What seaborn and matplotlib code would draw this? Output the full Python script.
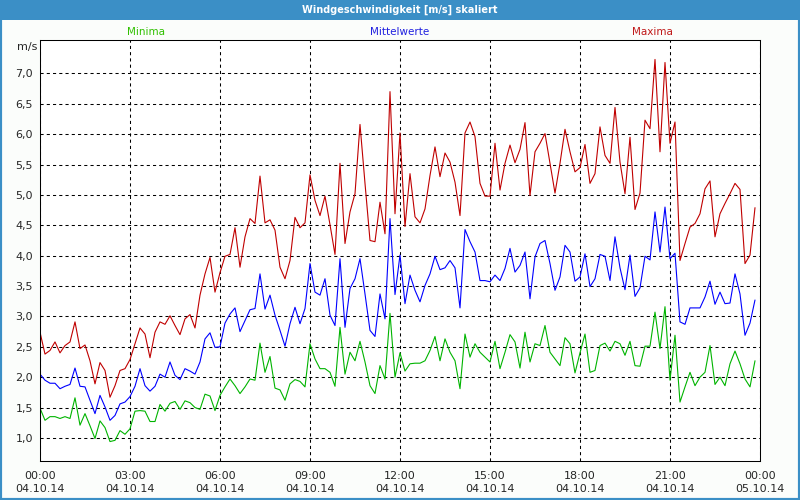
import numpy as np
import pandas as pd
import matplotlib
matplotlib.use("Agg")
import matplotlib.pyplot as plt
import seaborn as sns
from matplotlib.patches import Rectangle
from matplotlib.ticker import FuncFormatter

# Windgeschwindigkeit 04.10.14, 10-Minuten-Werte (m/s)
maxima = [
    2.74, 2.38, 2.44, 2.58, 2.40, 2.52, 2.58, 2.91, 2.47, 2.53, 2.27, 1.89,
    2.24, 2.11, 1.67, 1.86, 2.11, 2.14, 2.29, 2.55, 2.81, 2.71, 2.32, 2.74,
    2.91, 2.87, 3.01, 2.85, 2.70, 2.96, 3.03, 2.81, 3.35, 3.70, 3.97, 3.40,
    3.72, 3.99, 4.02, 4.46, 3.81, 4.31, 4.61, 4.53, 5.31, 4.54, 4.59, 4.42,
    3.81, 3.62, 3.92, 4.63, 4.46, 4.54, 5.33, 4.91, 4.66, 4.98, 4.51, 4.02,
    5.52, 4.20, 4.72, 5.02, 6.16, 5.19, 4.25, 4.23, 4.88, 4.36, 6.70, 4.69,
    6.02, 4.48, 5.35, 4.64, 4.54, 4.77, 5.32, 5.79, 5.30, 5.69, 5.54, 5.21,
    4.66, 6.02, 6.20, 5.96, 5.19, 4.98, 4.98, 5.85, 5.08, 5.52, 5.82, 5.53,
    5.75, 6.19, 4.99, 5.71, 5.85, 6.01, 5.52, 5.03, 5.52, 6.08, 5.71, 5.38,
    5.45, 5.83, 5.19, 5.35, 6.12, 5.65, 5.52, 6.44, 5.54, 5.02, 5.95, 4.76,
    5.03, 6.23, 6.09, 7.23, 5.71, 7.18, 5.85, 6.20, 3.92, 4.20, 4.47, 4.53,
    4.69, 5.10, 5.23, 4.31, 4.69, 4.86, 5.02, 5.19, 5.09, 3.87, 4.01, 4.79,
]
mittelwerte = [
    2.05, 1.95, 1.90, 1.90, 1.81, 1.85, 1.88, 2.15, 1.85, 1.84, 1.62, 1.40,
    1.70, 1.51, 1.29, 1.37, 1.56, 1.59, 1.68, 1.85, 2.14, 1.86, 1.77, 1.85,
    2.05, 2.00, 2.25, 2.03, 1.96, 2.14, 2.10, 2.05, 2.25, 2.63, 2.73, 2.49,
    2.50, 2.89, 3.04, 3.14, 2.75, 2.93, 3.11, 3.13, 3.70, 3.12, 3.35, 3.02,
    2.77, 2.51, 2.88, 3.15, 2.88, 3.13, 3.87, 3.40, 3.35, 3.62, 3.02, 2.85,
    3.95, 2.82, 3.46, 3.62, 3.95, 3.37, 2.77, 2.67, 3.37, 2.96, 4.61, 3.36,
    4.01, 3.21, 3.68, 3.43, 3.24, 3.51, 3.70, 3.99, 3.77, 3.80, 3.92, 3.80,
    3.14, 4.43, 4.23, 4.06, 3.59, 3.59, 3.57, 3.68, 3.59, 3.79, 4.12, 3.73,
    3.84, 4.06, 3.29, 3.98, 4.20, 4.25, 3.87, 3.43, 3.65, 4.17, 4.06, 3.58,
    3.65, 4.03, 3.49, 3.62, 4.02, 3.99, 3.59, 4.31, 3.80, 3.44, 4.01, 3.33,
    3.47, 3.99, 3.93, 4.72, 4.06, 4.80, 3.95, 4.04, 2.91, 2.87, 3.14, 3.14,
    3.14, 3.32, 3.58, 3.20, 3.40, 3.21, 3.22, 3.70, 3.37, 2.69, 2.89, 3.27,
]
minima = [
    1.49, 1.29, 1.35, 1.35, 1.32, 1.35, 1.32, 1.66, 1.21, 1.40, 1.20, 0.99,
    1.28, 1.17, 0.94, 0.96, 1.12, 1.06, 1.15, 1.44, 1.45, 1.44, 1.27, 1.27,
    1.55, 1.44, 1.57, 1.60, 1.47, 1.61, 1.58, 1.50, 1.47, 1.72, 1.69, 1.45,
    1.70, 1.84, 1.97, 1.86, 1.73, 1.84, 1.97, 1.95, 2.56, 2.08, 2.34, 1.82,
    1.79, 1.62, 1.89, 1.96, 1.93, 1.84, 2.55, 2.30, 2.14, 2.14, 2.08, 1.85,
    2.82, 2.05, 2.41, 2.27, 2.59, 2.25, 1.86, 1.73, 2.19, 1.97, 3.05, 2.00,
    2.40, 2.10, 2.22, 2.23, 2.23, 2.27, 2.44, 2.67, 2.27, 2.63, 2.41, 2.27,
    1.81, 2.71, 2.33, 2.55, 2.41, 2.33, 2.25, 2.59, 2.14, 2.41, 2.70, 2.58,
    2.15, 2.74, 2.25, 2.55, 2.52, 2.85, 2.41, 2.30, 2.19, 2.65, 2.55, 2.07,
    2.40, 2.71, 2.08, 2.11, 2.52, 2.56, 2.43, 2.59, 2.55, 2.36, 2.59, 2.19,
    2.18, 2.51, 2.51, 3.07, 2.47, 3.16, 1.95, 2.69, 1.59, 1.84, 2.08, 1.86,
    2.00, 2.08, 2.52, 1.88, 2.00, 1.86, 2.22, 2.43, 2.22, 1.97, 1.84, 2.27,
]

tick_hours = [0, 3, 6, 9, 12, 15, 18, 21, 24]
tick_labels = ["00:00\n04.10.14", "03:00\n04.10.14", "06:00\n04.10.14",
               "09:00\n04.10.14", "12:00\n04.10.14", "15:00\n04.10.14",
               "18:00\n04.10.14", "21:00\n04.10.14", "00:00\n05.10.14"]

colors = {"Maxima": "#c00000", "Mittelwerte": "#0000ff", "Minima": "#00b400"}
label_colors = {"Minima": "#30c000", "Mittelwerte": "#2020e0", "Maxima": "#c01818"}

# Zeitachse in Stunden (10-Minuten-Raster)
hours = np.arange(len(maxima)) / 6.0
df = pd.DataFrame({
    "Stunde": np.tile(hours, 3),
    "Wert": maxima + mittelwerte + minima,
    "Reihe": ["Maxima"] * len(maxima) + ["Mittelwerte"] * len(mittelwerte) + ["Minima"] * len(minima),
})

sns.set_style("white")
plt.rcParams["font.family"] = ["DejaVu Sans"]

fig = plt.figure(figsize=(8, 5), dpi=100)
fig.patch.set_facecolor("#fbfdfb")

# Fensterrahmen und Titelleiste
fig.patches.append(Rectangle((0, 0), 1, 1, transform=fig.transFigure, fill=False,
                             edgecolor="#3b8fc6", linewidth=3, zorder=0))
fig.patches.append(Rectangle((0, 1 - 20 / 500), 1, 20 / 500, transform=fig.transFigure,
                             facecolor="#3b8fc6", edgecolor="none", zorder=1))
fig.text(0.5, 1 - 10 / 500, "Windgeschwindigkeit [m/s] skaliert", color="white",
         fontsize=7, fontweight="bold", ha="center", va="center")

ax = fig.add_axes([0.05, 0.078, 0.9, 0.842])
ax.set_facecolor("white")

sns.lineplot(data=df, x="Stunde", y="Wert", hue="Reihe", palette=colors,
             linewidth=0.8, legend=False, ax=ax)

ax.set_xlim(0, 24)
ax.set_ylim(0.62, 7.55)
ax.set_xlabel("")
ax.set_ylabel("")

ax.set_xticks(tick_hours, tick_labels)
ax.set_xticks(range(25), minor=True)
ax.set_yticks(np.arange(1.0, 7.01, 0.5))
ax.yaxis.set_major_formatter(FuncFormatter(lambda v, p: f"{v:.1f}".replace(".", ",")))
ax.tick_params(axis="x", which="both", direction="inout", length=4, width=0.75,
               color="black", labelsize=8, pad=5)
ax.tick_params(axis="y", which="both", length=0, labelsize=8, pad=5)
for t in ax.get_xticklabels():
    t.set_linespacing(1.45)

ax.grid(True, which="major", color="black", linestyle=(0, (3, 3)), linewidth=0.75)
for s in ax.spines.values():
    s.set_visible(True)
    s.set_color("black")
    s.set_linewidth(0.75)

fig.text(37 / 800, 1 - 47 / 500, "m/s", fontsize=8, ha="right", va="center")
fig.text(146 / 800, 1 - 32 / 500, "Minima", fontsize=7.5, color=label_colors["Minima"],
         ha="center", va="center")
fig.text(400 / 800, 1 - 32 / 500, "Mittelwerte", fontsize=7.5, color=label_colors["Mittelwerte"],
         ha="center", va="center")
fig.text(652 / 800, 1 - 32 / 500, "Maxima", fontsize=7.5, color=label_colors["Maxima"],
         ha="center", va="center")

fig.savefig("out.png", dpi=100, facecolor=fig.get_facecolor())
